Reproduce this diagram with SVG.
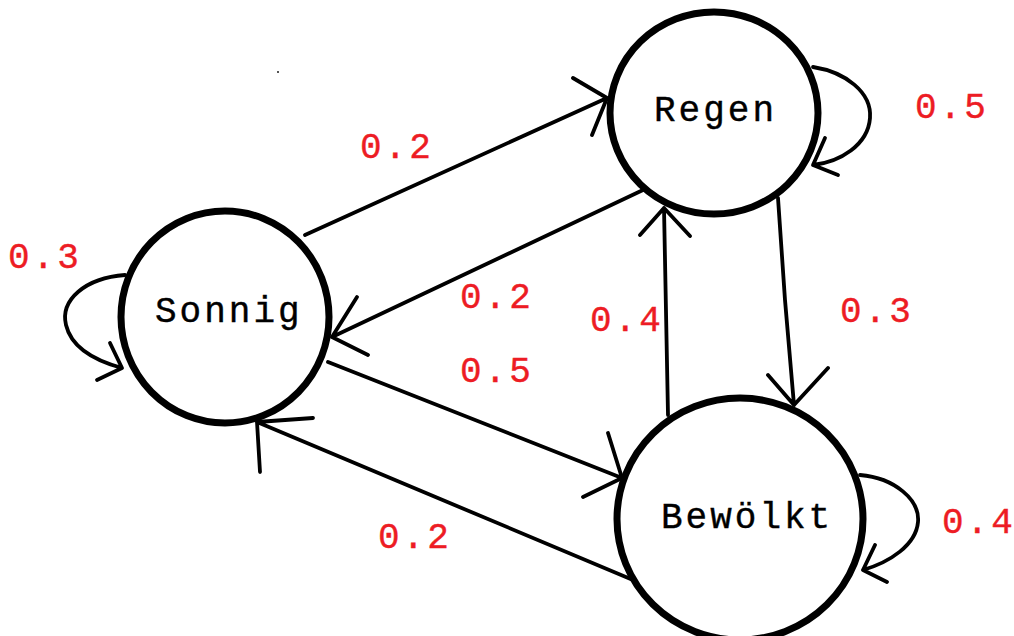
<svg xmlns="http://www.w3.org/2000/svg" width="1014" height="636" viewBox="0 0 1014 636">
<style>
.node{fill:#fff;stroke:#000;stroke-width:7}
.lbl{font-family:"Liberation Mono","DejaVu Sans Mono",monospace;font-size:36px;fill:#000;letter-spacing:3px;stroke:#000;stroke-width:0.4}
.p{font-family:"Liberation Mono","DejaVu Sans Mono",monospace;font-size:36px;fill:#ed1c24;letter-spacing:3px;stroke:#ed1c24;stroke-width:0.4}
.c{fill:none;stroke:#000;stroke-width:3.8;stroke-linecap:round;stroke-linejoin:round}
</style>
<rect width="1014" height="636" fill="#fff"/>
<rect x="277" y="71" width="2" height="2" fill="#555"/>
<g id="connectors">
  <path class="c" d="M305,235 L607,98 M573,78 L607,98 L592,135"/>
  <path class="c" d="M643,190 L332,337 M357,297 L332,337 L368,355"/>
  <path class="c" d="M328,362 L622,478 M608,433 L622,478 L583,497"/>
  <path class="c" d="M633,580 L257,422 M313,418 L257,422 L260,472"/>
  <path class="c" d="M668,415 L664,208 M640,235 L664,208 L690,236"/>
  <path class="c" d="M778,198 L785,300 L794,405 M768,375 L794,405 L828,368"/>
  <path class="c" d="M125,275 C85,278 60,300 66,325 C72,350 100,362 122,368 M110,343 L122,368 L97,380"/>
  <path class="c" d="M813,67 C845,72 872,92 870,118 C868,145 840,162 813,165 M825,138 L813,165 L838,175"/>
  <path class="c" d="M860,475 C895,478 920,500 918,522 C916,545 890,562 863,570 M875,545 L863,570 L887,582"/>
</g>
<g id="sonnig">
  <ellipse class="node" cx="225" cy="317" rx="104" ry="106"/>
  <text class="lbl" x="155" y="322">Sonnig</text>
</g>
<g id="regen">
  <ellipse class="node" cx="714" cy="113" rx="104" ry="101"/>
  <text class="lbl" x="654" y="121">Regen</text>
</g>
<g id="bewoelkt">
  <ellipse class="node" cx="740" cy="519" rx="123" ry="121"/>
  <text class="lbl" x="661" y="528">Bewölkt</text>
</g>
<g id="labels">
  <text class="p" x="8" y="268">0.3</text>
  <text class="p" x="915" y="118">0.5</text>
  <text class="p" x="360" y="158">0.2</text>
  <text class="p" x="460" y="308">0.2</text>
  <text class="p" x="460" y="382">0.5</text>
  <text class="p" x="590" y="331">0.4</text>
  <text class="p" x="840" y="322">0.3</text>
  <text class="p" x="378" y="548">0.2</text>
  <text class="p" x="942" y="533">0.4</text>
</g>
</svg>
